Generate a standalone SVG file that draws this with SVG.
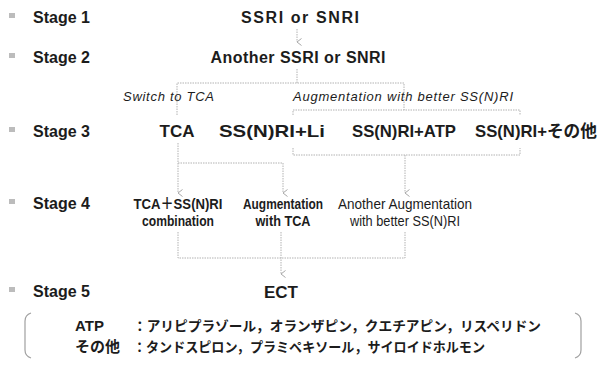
<svg xmlns="http://www.w3.org/2000/svg" width="599" height="365" viewBox="0 0 599 365">
  <style>
    text { font-family: "Liberation Sans", "Noto Sans CJK JP", sans-serif; fill: #1c1c1c; }
    .stage { font-size: 16px; font-weight: bold; }
    .drug { font-size: 16px; font-weight: bold; text-anchor: middle; }
    .big { font-size: 17px; font-weight: bold; text-anchor: middle; }
    .s4 { font-size: 15.5px; font-weight: bold; text-anchor: middle; }
    .s4r { font-size: 14.5px; text-anchor: middle; }
    .it { font-size: 13px; font-style: italic; }
    .leg { font-size: 13.5px; font-weight: bold; }
    .legk { font-size: 15px; font-weight: bold; }
    .bullet { fill: #bcbcbc; }
    .wire { fill: none; stroke: #b2b2b2; stroke-width: 1; stroke-dasharray: 1.5 1; }
    .arrow { fill: none; stroke: #b2b2b2; stroke-width: 1; stroke-dasharray: 1.5 1; marker-end: url(#head); }
    .brace { fill: none; stroke: #a0a0a0; stroke-width: 1.2; }
  </style>
  <defs>
    <marker id="head" viewBox="0 0 10 10" refX="5" refY="9" markerWidth="10" markerHeight="10" markerUnits="userSpaceOnUse" orient="auto-start-reverse">
      <path d="M1.5,4.5 L5,9 L8.5,4.5" fill="none" stroke="#a8a8a8" stroke-width="1"/>
    </marker>
  </defs>

  <rect width="599" height="365" fill="#ffffff"/>

  <!-- stage labels -->
  <g id="stage-labels">
    <rect class="bullet" x="9" y="13" width="6" height="5"/>
    <text class="stage" x="33" y="23">Stage 1</text>
    <rect class="bullet" x="9" y="53" width="6" height="5"/>
    <text class="stage" x="33" y="63">Stage 2</text>
    <rect class="bullet" x="9" y="127" width="6" height="5"/>
    <text class="stage" x="33" y="137">Stage 3</text>
    <rect class="bullet" x="9" y="199" width="6" height="5"/>
    <text class="stage" x="33" y="209">Stage 4</text>
    <rect class="bullet" x="9" y="287" width="6" height="5"/>
    <text class="stage" x="33" y="297">Stage 5</text>
  </g>

  <!-- connectors -->
  <g id="connectors">
    <line class="arrow" x1="297" y1="29" x2="297" y2="42"/>
    <!-- stage 2 split -->
    <polyline class="wire" points="297,69 297,83"/>
    <polyline class="wire" points="177,115 177,83 404,83 404,110"/>
    <polyline class="wire" points="293,115 293,110 520,110 520,115"/>
    <!-- stage 3 to 4 -->
    <line class="arrow" x1="178" y1="143" x2="178" y2="193"/>
    <polyline class="wire" points="178,163 283,163"/>
    <line class="arrow" x1="283" y1="163" x2="283" y2="193"/>
    <polyline class="wire" points="293,148 293,155 520,155 520,148"/>
    <line class="arrow" x1="405" y1="155" x2="405" y2="193"/>
    <!-- stage 4 to 5 -->
    <polyline class="wire" points="178,232 178,258 405,258 405,232"/>
    <line class="arrow" x1="281" y1="232" x2="281" y2="274"/>
  </g>

  <g id="n-ssri-snri">
    <text class="drug" x="300" y="23" textLength="118" lengthAdjust="spacing">SSRI  or  SNRI</text>
  </g>
  <g id="n-another">
    <text class="drug" x="298" y="63" textLength="175" lengthAdjust="spacing">Another SSRI or SNRI</text>
  </g>
  <g id="n-switch-label">
    <text class="it" x="123" y="101" textLength="91" lengthAdjust="spacing">Switch to TCA</text>
  </g>
  <g id="n-augment-label">
    <text class="it" x="293" y="101" textLength="220" lengthAdjust="spacing">Augmentation with better SS(N)RI</text>
  </g>

  <g id="n-tca">
    <text class="big" x="177" y="137">TCA</text>
  </g>
  <g id="n-li">
    <text class="big" x="272" y="137" textLength="106" lengthAdjust="spacingAndGlyphs">SS(N)RI+Li</text>
  </g>
  <g id="n-atp">
    <text class="big" x="404" y="137" textLength="104" lengthAdjust="spacingAndGlyphs">SS(N)RI+ATP</text>
  </g>
  <g id="n-other">
    <text class="big" x="536" y="137" textLength="122" lengthAdjust="spacingAndGlyphs">SS(N)RI+その他</text>
  </g>

  <g id="n-combination">
    <text class="s4" x="178" y="209" textLength="89" lengthAdjust="spacingAndGlyphs">TCA＋SS(N)RI</text>
    <text class="s4" x="178" y="226" textLength="72" lengthAdjust="spacingAndGlyphs">combination</text>
  </g>
  <g id="n-aug-tca">
    <text class="s4" x="283" y="209" textLength="80" lengthAdjust="spacingAndGlyphs">Augmentation</text>
    <text class="s4" x="283" y="226" textLength="55" lengthAdjust="spacingAndGlyphs">with TCA</text>
  </g>
  <g id="n-another-aug">
    <text class="s4r" x="405" y="209" textLength="134" lengthAdjust="spacingAndGlyphs">Another Augmentation</text>
    <text class="s4r" x="405" y="226" textLength="110" lengthAdjust="spacingAndGlyphs">with better SS(N)RI</text>
  </g>

  <g id="n-ect">
    <text class="big" x="281" y="298">ECT</text>
  </g>

  <!-- legend -->
  <g id="legend">
    <path class="brace" d="M31,313 Q25,315 25,321 L25,350 Q25,356 31,358"/>
    <path class="brace" d="M575,313 Q581,315 581,321 L581,350 Q581,356 575,358"/>
    <text class="legk" x="75" y="331">ATP</text>
    <text class="leg" x="133" y="331" textLength="408" lengthAdjust="spacingAndGlyphs">：アリピプラゾール，オランザピン，クエチアピン，リスペリドン</text>
    <text class="legk" x="75" y="352">その他</text>
    <text class="leg" x="133" y="352" textLength="352" lengthAdjust="spacingAndGlyphs">：タンドスピロン，プラミペキソール，サイロイドホルモン</text>
  </g>
</svg>
